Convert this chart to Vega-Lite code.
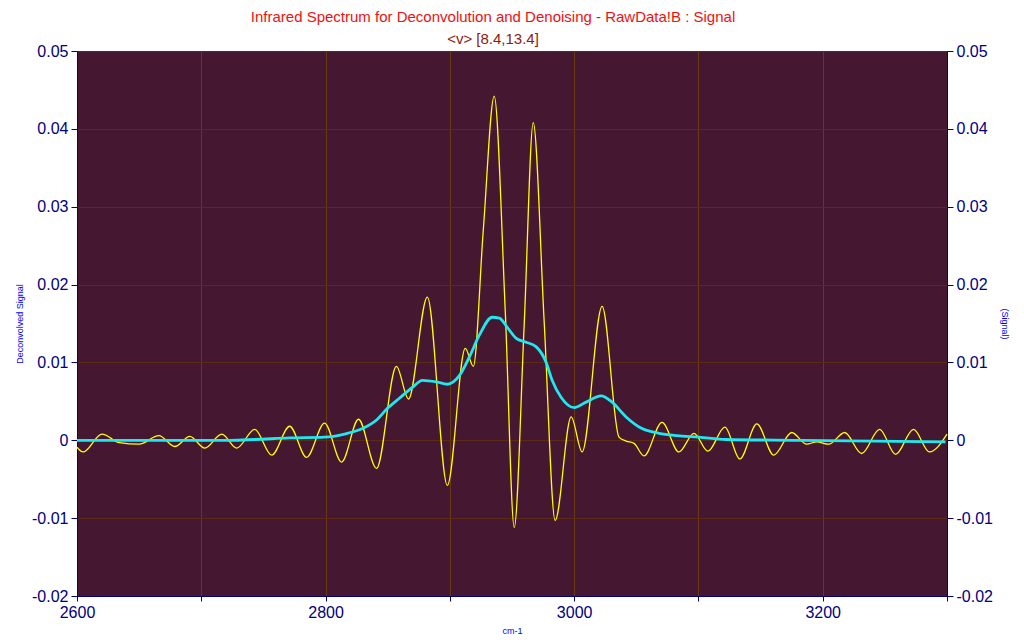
{
  "$schema": "https://vega.github.io/schema/vega-lite/v6.json",
  "width": 870,
  "height": 545,
  "autosize": {"type": "none"},
  "padding": {"left": 77, "top": 51, "right": 77, "bottom": 44},
  "background": "white",
  "title": {
    "text": "Infrared Spectrum for Deconvolution and Denoising - RawData!B : Signal",
    "subtitle": "<v> [8.4,13.4]",
    "color": "#F01010",
    "subtitleColor": "#8B1A10",
    "fontSize": 15,
    "subtitleFontSize": 15,
    "font": "Liberation Sans",
    "subtitleFont": "Liberation Sans",
    "fontWeight": "normal",
    "anchor": "middle",
    "dx": -19,
    "offset": -4,
    "subtitlePadding": 7
  },
  "datasets": {
    "signal": [
      {"x": 2600, "y": -0.0009}, {"x": 2604.8, "y": -0.0015}, {"x": 2620.1, "y": 0.0008}, {"x": 2634, "y": -0.0003},
      {"x": 2650, "y": -0.0005}, {"x": 2665.9, "y": 0.0006}, {"x": 2678.7, "y": -0.0008}, {"x": 2690.8, "y": 0.0005},
      {"x": 2702.8, "y": -0.001}, {"x": 2716.5, "y": 0.0008}, {"x": 2728.5, "y": -0.001}, {"x": 2743, "y": 0.0014},
      {"x": 2756.6, "y": -0.0019}, {"x": 2771.1, "y": 0.0018}, {"x": 2784.7, "y": -0.0022}, {"x": 2799.2, "y": 0.0022},
      {"x": 2812.9, "y": -0.0028}, {"x": 2826.5, "y": 0.0027}, {"x": 2841, "y": -0.0036}, {"x": 2857, "y": 0.0095},
      {"x": 2866.7, "y": 0.0053}, {"x": 2881.9, "y": 0.0184}, {"x": 2898, "y": -0.0058}, {"x": 2912.4, "y": 0.0118},
      {"x": 2918.9, "y": 0.0095}, {"x": 2926.9, "y": 0.027}, {"x": 2935.7, "y": 0.0442}, {"x": 2944.6, "y": 0.0165},
      {"x": 2951.8, "y": -0.0112}, {"x": 2959.8, "y": 0.0148}, {"x": 2967.1, "y": 0.0408}, {"x": 2975.9, "y": 0.0152},
      {"x": 2984.7, "y": -0.0103}, {"x": 2997.6, "y": 0.003}, {"x": 3006.4, "y": -0.0015}, {"x": 3022.5, "y": 0.0172},
      {"x": 3036.1, "y": 0.0004}, {"x": 3041.8, "y": -0.0001}, {"x": 3048.2, "y": -0.0004}, {"x": 3056.2, "y": -0.002},
      {"x": 3070.7, "y": 0.0023}, {"x": 3084.3, "y": -0.0015}, {"x": 3096.4, "y": 0.0009}, {"x": 3107.6, "y": -0.0014},
      {"x": 3121.3, "y": 0.0017}, {"x": 3133.3, "y": -0.0024}, {"x": 3147, "y": 0.0021}, {"x": 3160.6, "y": -0.0019},
      {"x": 3175.1, "y": 0.001}, {"x": 3187.1, "y": -0.0005}, {"x": 3195.2, "y": -0.0002}, {"x": 3204.8, "y": -0.0005},
      {"x": 3217.7, "y": 0.001}, {"x": 3231.3, "y": -0.0017}, {"x": 3245.8, "y": 0.0014}, {"x": 3258.6, "y": -0.0018},
      {"x": 3273.1, "y": 0.0014}, {"x": 3285.9, "y": -0.0015}, {"x": 3300, "y": 0.0008}
    ],
    "deconv": [
      {"x": 2600, "y": 0.0}, {"x": 2658.6, "y": 0.0}, {"x": 2722.9, "y": 0.0}, {"x": 2743, "y": 0.0001},
      {"x": 2771.1, "y": 0.0003}, {"x": 2799.2, "y": 0.0004}, {"x": 2815.3, "y": 0.0008}, {"x": 2829.7, "y": 0.0015},
      {"x": 2841, "y": 0.0026}, {"x": 2849.8, "y": 0.0041}, {"x": 2859.4, "y": 0.0054}, {"x": 2869.9, "y": 0.0068},
      {"x": 2877.9, "y": 0.0077}, {"x": 2889.2, "y": 0.0075}, {"x": 2898, "y": 0.0072}, {"x": 2907.6, "y": 0.0083},
      {"x": 2915.7, "y": 0.0107}, {"x": 2923.7, "y": 0.0135}, {"x": 2934.1, "y": 0.0158}, {"x": 2939.8, "y": 0.0157},
      {"x": 2946.2, "y": 0.0145}, {"x": 2953.4, "y": 0.0131}, {"x": 2961.4, "y": 0.0126}, {"x": 2969.5, "y": 0.012},
      {"x": 2977.5, "y": 0.01}, {"x": 2982.3, "y": 0.0077}, {"x": 2989.6, "y": 0.0055}, {"x": 3000, "y": 0.0042},
      {"x": 3009.6, "y": 0.0049}, {"x": 3021.7, "y": 0.0057}, {"x": 3030.5, "y": 0.0049}, {"x": 3041.8, "y": 0.003},
      {"x": 3054.6, "y": 0.0015}, {"x": 3068.3, "y": 0.0009}, {"x": 3082.7, "y": 0.0006}, {"x": 3100.4, "y": 0.0004},
      {"x": 3122.1, "y": 0.0001}, {"x": 3180.7, "y": 0.0}, {"x": 3298.8, "y": -0.0002}
    ]
  },
  "encoding": {
    "x": {
      "field": "x",
      "type": "quantitative",
      "scale": {"domain": [2600, 3300], "nice": false, "zero": false},
      "axis": {
        "values": [2600, 2700, 2800, 2900, 3000, 3100, 3200, 3300],
        "labelExpr": "datum.value % 200 == 0 ? format(datum.value, 'd') : ''",
        "labelFlush": false,
        "labelOverlap": false,
        "grid": true,
        "gridColor": "#6B3A12",
        "gridOpacity": 1,
        "tickSize": 5,
        "tickColor": "#000080",
        "domainColor": "#000080",
        "labelColor": "#000080",
        "labelFontSize": 16,
        "labelPadding": 3,
        "labelFont": "Liberation Sans",
        "title": "cm-1",
        "titleColor": "#0000FF",
        "titleFontSize": 9,
        "titleFontWeight": "normal",
        "titleFont": "Liberation Sans",
        "titlePadding": 6
      }
    }
  },
  "layer": [
    {
      "data": {"name": "signal"},
      "mark": {"type": "line", "color": "#FFFF00", "strokeWidth": 1.3, "interpolate": "monotone"},
      "encoding": {
        "y": {
          "field": "y",
          "type": "quantitative",
          "scale": {"domain": [-0.02, 0.05], "nice": false, "zero": false},
          "axis": {
            "orient": "right",
            "values": [-0.02, -0.01, 0, 0.01, 0.02, 0.03, 0.04, 0.05],
            "labelExpr": "datum.value == 0 ? '0' : (datum.value < 0 ? '-' + format(-datum.value, '.2f') : format(datum.value, '.2f'))",
            "labelFlush": false,
            "grid": false,
            "tickSize": 6,
            "tickColor": "#000080",
            "domainColor": "#000080",
            "labelColor": "#000080",
            "labelFontSize": 16,
            "labelPadding": 3,
            "labelFont": "Liberation Sans",
            "title": "(Signal)",
            "titleColor": "#0000FF",
            "titleFontSize": 9,
            "titleFontWeight": "normal",
            "titleFont": "Liberation Sans",
            "titlePadding": 7
          }
        }
      }
    },
    {
      "data": {"name": "deconv"},
      "mark": {"type": "line", "color": "#1EE8F0", "strokeWidth": 2.8, "interpolate": "monotone"},
      "encoding": {
        "y": {
          "field": "y",
          "type": "quantitative",
          "scale": {"domain": [-0.02, 0.05], "nice": false, "zero": false},
          "axis": {
            "orient": "left",
            "values": [-0.02, -0.01, 0, 0.01, 0.02, 0.03, 0.04, 0.05],
            "labelExpr": "datum.value == 0 ? '0' : (datum.value < 0 ? '-' + format(-datum.value, '.2f') : format(datum.value, '.2f'))",
            "labelFlush": false,
            "grid": true,
            "gridColor": "#5E2A18",
            "gridOpacity": 1,
            "tickSize": 6,
            "tickColor": "#000080",
            "domainColor": "#000080",
            "labelColor": "#000080",
            "labelFontSize": 16,
            "labelPadding": 3,
            "labelFont": "Liberation Sans",
            "title": "Deconvolved Signal",
            "titleColor": "#0000FF",
            "titleFontSize": 9,
            "titleFontWeight": "normal",
            "titleFont": "Liberation Sans",
            "titlePadding": 7
          }
        }
      }
    }
  ],
  "resolve": {"scale": {"y": "independent"}},
  "config": {
    "font": "Liberation Sans",
    "view": {"fill": "#461731", "stroke": "#000080", "strokeWidth": 1}
  }
}
